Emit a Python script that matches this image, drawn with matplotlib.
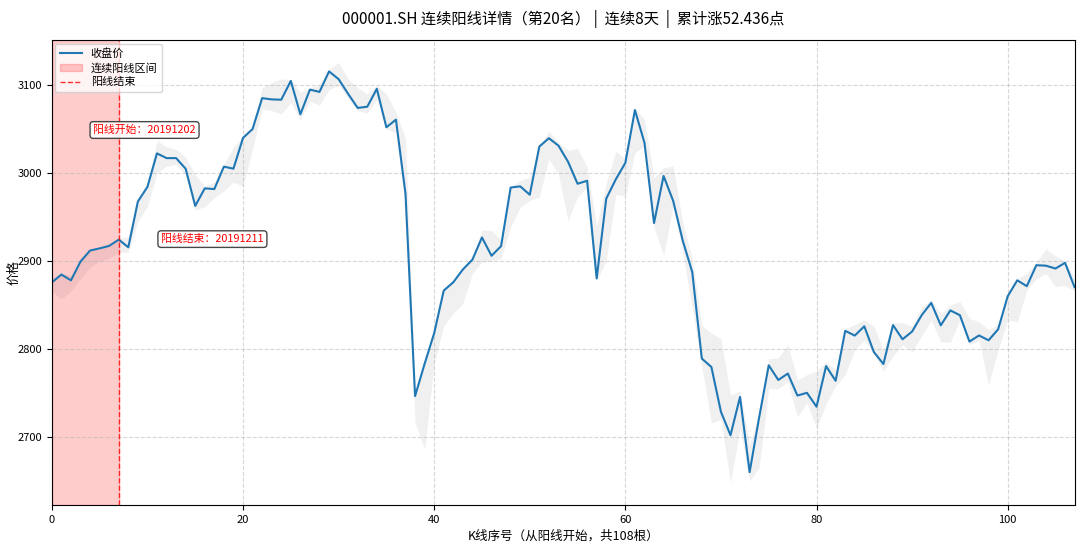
import matplotlib
matplotlib.use("Agg")
import matplotlib.pyplot as plt
import numpy as np

plt.rcParams['font.family'] = ['Noto Sans CJK SC', 'DejaVu Sans']
plt.rcParams['axes.unicode_minus'] = False

# 收盘价（K线序号 0..107）
close = [2875.81, 2884.70, 2878.12, 2899.47, 2912.01, 2914.48, 2917.32, 2924.42, 2915.70, 2967.68,
         2984.39, 3022.42, 3017.04, 3017.07, 3004.94, 2962.75, 2982.68, 2981.88, 3007.35, 3005.04,
         3040.02, 3050.12, 3085.20, 3083.79, 3083.41, 3104.80, 3066.89, 3094.88, 3092.29, 3115.57,
         3106.82, 3090.04, 3074.08, 3075.50, 3095.79, 3052.14, 3060.75, 2976.53, 2746.61, 2783.29,
         2818.09, 2866.51, 2875.96, 2890.49, 2901.67, 2926.90, 2906.07, 2917.01, 2983.62, 2984.97,
         2975.40, 3030.15, 3039.67, 3031.23, 3013.05, 2987.93, 2991.33, 2880.30, 2970.93, 2992.90,
         3011.67, 3071.68, 3034.51, 2943.29, 2996.76, 2968.52, 2923.49, 2887.43, 2789.25, 2779.64,
         2728.76, 2702.13, 2745.62, 2660.17, 2722.44, 2781.59, 2764.91, 2772.20, 2747.21, 2750.30,
         2734.52, 2780.64, 2763.99, 2820.76, 2815.37, 2825.90, 2796.63, 2783.05, 2827.28, 2811.17,
         2819.94, 2838.49, 2852.55, 2827.01, 2843.98, 2838.50, 2808.53, 2815.49, 2810.02, 2822.44,
         2860.08, 2878.14, 2871.52, 2895.34, 2894.80, 2891.56, 2898.05, 2870.34]

# 最低价 / 最高价（灰色区间）
low = [2866, 2857, 2866, 2880, 2893, 2900, 2903, 2910, 2910, 2945,
       2962, 3000, 3008, 3010, 2998, 2958, 2962, 2972, 2980, 2990,
       2985, 3027, 3073, 3071, 3067, 3080, 3061, 3082, 3077, 3095,
       3100, 3085, 3071, 3068, 3084, 3050, 3046, 2962, 2716, 2686,
       2784, 2826, 2841, 2852, 2886, 2899, 2900, 2903, 2939, 2961,
       2969, 2973, 3016, 2999, 2946, 2973, 2984, 2878, 2900, 2976,
       2974, 3023, 3031, 2938, 2906, 2963, 2910, 2846, 2780, 2716,
       2720, 2648, 2710, 2650, 2665, 2755, 2755, 2763, 2723, 2739,
       2710, 2738, 2758, 2771, 2799, 2810, 2795, 2775, 2792, 2805,
       2797, 2815, 2833, 2808, 2808, 2833, 2805, 2810, 2759, 2799,
       2833, 2831, 2867, 2880, 2886, 2871, 2872, 2866]
high = [2880, 2886, 2884, 2900, 2913, 2916, 2919, 2926, 2928, 2970,
        2986, 3037, 3030, 3027, 3018, 2998, 2985, 2990, 3010, 3030,
        3041, 3052, 3097, 3103, 3107, 3106, 3092, 3097, 3101, 3118,
        3126, 3107, 3097, 3090, 3100, 3090, 3069, 3040, 2748, 2784,
        2820, 2868, 2878, 2892, 2905, 2935, 2935, 2924, 2985, 2992,
        2995, 3030, 3048, 3035, 3026, 3028, 3007, 2940, 2989, 3025,
        3016, 3074, 3061, 2995, 3006, 3008, 2944, 2903, 2827, 2818,
        2812, 2748, 2752, 2691, 2728, 2789, 2790, 2805, 2765, 2771,
        2775, 2785, 2777, 2823, 2828, 2833, 2826, 2799, 2830, 2830,
        2826, 2848, 2856, 2840, 2850, 2854, 2835, 2831, 2822, 2828,
        2862, 2880, 2886, 2899, 2914, 2906, 2900, 2880]

streak_end = 7
start_date = "20191202"
end_date = "20191211"

x = np.arange(len(close))

fig, ax = plt.subplots(figsize=(10.8, 5.44), dpi=100)
fig.subplots_adjust(left=0.048, right=0.995, top=0.926, bottom=0.072)

ax.fill_between(x, low, high, color='lightgray', alpha=0.32, linewidth=0)
ax.axvspan(0, streak_end, color='red', alpha=0.2, label='连续阳线区间')
ax.plot(x, close, color='#1f77b4', linewidth=1.5, label='收盘价')
ax.axvline(streak_end, color='red', linestyle='--', linewidth=1, alpha=0.8, label='阳线结束')

bbox = dict(boxstyle='round,pad=0.3', fc='white', ec='#333333', alpha=0.9)
ax.text(9.7, 3049, f'阳线开始：{start_date}', color='red', fontsize=7.8,
        ha='center', va='center', bbox=bbox)
ax.text(16.8, 2925, f'阳线结束：{end_date}', color='red', fontsize=7.8,
        ha='center', va='center', bbox=bbox)

ax.set_xlim(0, len(close) - 1)
ax.set_ylim(2623, 3151)
ax.grid(True, linestyle='--', alpha=0.5)
ax.tick_params(labelsize=8)

handles, labels = ax.get_legend_handles_labels()
order = [labels.index(l) for l in ['收盘价', '连续阳线区间', '阳线结束']]
ax.legend([handles[i] for i in order], [labels[i] for i in order],
          loc='upper left', fontsize=8, borderpad=0.4, labelspacing=0.35,
          handlelength=2.0, borderaxespad=0.3)

ax.set_title('000001.SH 连续阳线详情（第20名） |  连续8天  |  累计涨52.436点', fontsize=11, pad=12)
ax.set_xlabel('K线序号（从阳线开始，共108根）', fontsize=9)
ax.set_ylabel('价格', fontsize=9)
ax.yaxis.set_label_coords(-0.031, 0.5)

plt.savefig('out.png', dpi=100)
